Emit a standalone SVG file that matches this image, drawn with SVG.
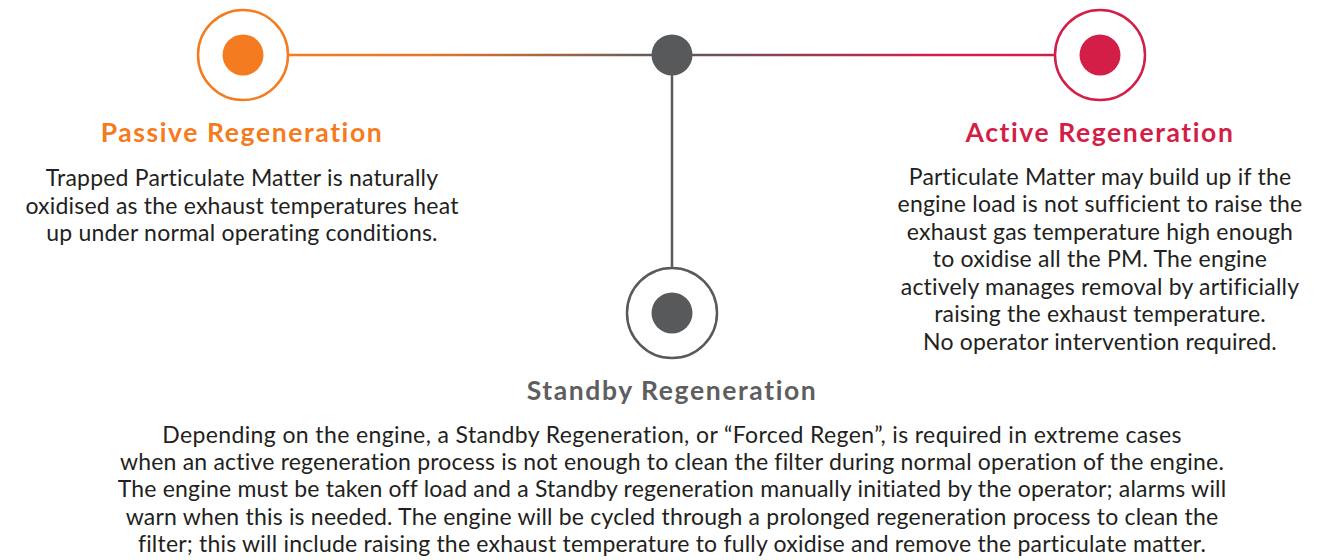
<svg xmlns="http://www.w3.org/2000/svg" width="1335" height="560" viewBox="0 0 1335 560">
<defs>
<linearGradient id="gl" x1="288" y1="0" x2="672" y2="0" gradientUnits="userSpaceOnUse">
<stop offset="0" stop-color="#F47B20"/><stop offset="0.35" stop-color="#E9772A"/><stop offset="1" stop-color="#5A5A5C"/>
</linearGradient>
<linearGradient id="gr" x1="672" y1="0" x2="1055" y2="0" gradientUnits="userSpaceOnUse">
<stop offset="0" stop-color="#5A5A5C"/><stop offset="0.65" stop-color="#CF2248"/><stop offset="1" stop-color="#D31F47"/>
</linearGradient>
</defs>
<style>
.ring{fill:#fff;stroke-width:2.5}
.title{font-family:Lato,"Open Sans",sans-serif;font-weight:700;font-size:26.5px;text-anchor:middle;letter-spacing:1.6px}
.body{font-family:Lato,"Open Sans",sans-serif;font-size:23px;fill:#231F20;text-anchor:middle;letter-spacing:0.2px}
.c{fill:none;stroke-width:2.5}
</style>
<rect width="1335" height="560" fill="#fff"/>
<g id="connectors">
<line class="c" x1="288" y1="55" x2="672" y2="55" stroke="url(#gl)"/>
<line class="c" x1="672" y1="55" x2="1055" y2="55" stroke="url(#gr)"/>
<line class="c" x1="672" y1="55" x2="672" y2="268" stroke="#5A5A5C"/>
</g>
<g id="hub">
<circle cx="672" cy="55" r="20.5" fill="#58595B"/>
</g>
<g id="passive">
<circle class="ring" cx="243" cy="55" r="45" stroke="#F47B20"/>
<circle cx="243" cy="55" r="20.5" fill="#F47B20"/>
<text class="title" x="242" y="142" fill="#F47B20">Passive Regeneration</text>
<text class="body" x="242"><tspan x="242" y="186">Trapped Particulate Matter is naturally</tspan><tspan x="242" y="213.5">oxidised as the exhaust temperatures heat</tspan><tspan x="242" y="241">up under normal operating conditions.</tspan></text>
</g>
<g id="active">
<circle class="ring" cx="1100" cy="55" r="45" stroke="#D31F47"/>
<circle cx="1100" cy="55" r="20.5" fill="#D31F47"/>
<text class="title" x="1100" y="142" fill="#D31F47">Active Regeneration</text>
<text class="body"><tspan x="1100" y="184.5">Particulate Matter may build up if the</tspan><tspan x="1100" y="212">engine load is not sufficient to raise the</tspan><tspan x="1100" y="239.5">exhaust gas temperature high enough</tspan><tspan x="1100" y="267">to oxidise all the PM. The engine</tspan><tspan x="1100" y="294.5">actively manages removal by artificially</tspan><tspan x="1100" y="322">raising the exhaust temperature.</tspan><tspan x="1100" y="349.5">No operator intervention required.</tspan></text>
</g>
<g id="standby">
<circle class="ring" cx="672" cy="313" r="45" stroke="#58595B"/>
<circle cx="672" cy="313" r="20.5" fill="#58595B"/>
<text class="title" x="672" y="400" fill="#5E5E60">Standby Regeneration</text>
<text class="body"><tspan x="672" y="443" letter-spacing="0.38">Depending on the engine, a Standby Regeneration, or “Forced Regen”, is required in extreme cases</tspan><tspan x="672" y="470">when an active regeneration process is not enough to clean the filter during normal operation of the engine.</tspan><tspan x="672" y="497">The engine must be taken off load and a Standby regeneration manually initiated by the operator; alarms will</tspan><tspan x="672" y="524.5">warn when this is needed. The engine will be cycled through a prolonged regeneration process to clean the</tspan><tspan x="672" y="551.5">filter; this will include raising the exhaust temperature to fully oxidise and remove the particulate matter.</tspan></text>
</g>
</svg>
